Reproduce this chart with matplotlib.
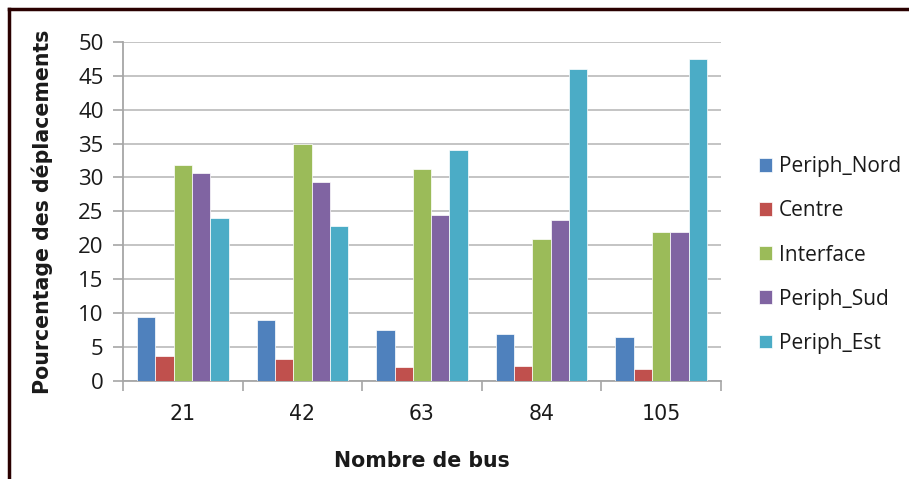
import numpy as np
import matplotlib.pyplot as plt
from matplotlib.lines import Line2D

plt.rcParams['font.family'] = ['DejaVu Sans']

# data
bus_counts = ['21', '42', '63', '84', '105']
periph_nord = [9.35, 9.0, 7.5, 6.95, 6.45]
centre = [3.7, 3.2, 2.0, 2.15, 1.8]
interface = [31.8, 35.0, 31.3, 20.9, 21.95]
periph_sud = [30.6, 29.4, 24.5, 23.7, 21.95]
periph_est = [24.0, 22.9, 34.05, 45.95, 47.45]

series_names = ['Periph_Nord', 'Centre', 'Interface', 'Periph_Sud', 'Periph_Est']
series_vals = [periph_nord, centre, interface, periph_sud, periph_est]
colors = ['#4F81BD', '#C0504D', '#9BBB59', '#8064A2', '#4BACC6']

fs = 14.8
txt = '#1a1a1a'
W, H = 909, 479
fig = plt.figure(figsize=(W / 100, H / 100), dpi=100)
ax = fig.add_axes([123 / W, 1 - 380.7 / H, (721 - 123) / W, (380.7 - 42) / H])

x = np.arange(len(bus_counts))
bw = 0.153
for i, (name, vals, c) in enumerate(zip(series_names, series_vals, colors)):
    ax.bar(x + (i - 2) * bw, vals, width=bw, color=c, edgecolor='white',
           linewidth=0.5, label=name, zorder=3)

ax.set_xlim(-0.5, len(bus_counts) - 0.5)
ax.set_ylim(0, 50)
ax.set_yticks(np.arange(0, 51, 5))
ax.set_xticks(x)
ax.set_xticklabels(bus_counts)
ax.set_xticks(np.arange(-0.5, len(bus_counts)), minor=True)
ax.tick_params(axis='x', which='major', length=0, pad=17, labelsize=fs, labelcolor=txt)
ax.tick_params(axis='x', which='minor', length=7, width=1.2, color='#A6A6A6')
ax.tick_params(axis='y', length=7, width=1.2, color='#A6A6A6', labelsize=16,
               labelcolor=txt, pad=7)
for lab in ax.get_yticklabels():
    lab.set_family(['Open Sans', 'DejaVu Sans'])

ax.grid(axis='y', color='#BFBFBF', linewidth=1.3, zorder=0)
for s in ['top', 'right']:
    ax.spines[s].set_visible(False)
for s in ['left', 'bottom']:
    ax.spines[s].set_color('#A6A6A6')
    ax.spines[s].set_linewidth(1.3)

ax.set_xlabel('Nombre de bus', fontsize=fs, fontweight='bold', labelpad=19, color=txt)
ax.set_ylabel('Pourcentage des déplacements', fontsize=fs, fontweight='bold',
              labelpad=18, color=txt)

leg = ax.legend(loc='center left', bbox_to_anchor=(1.032, 0.371), frameon=False,
                prop={'family': ['Open Sans', 'DejaVu Sans'], 'size': 15},
                handlelength=0.65, handleheight=0.65, handletextpad=0.3,
                labelspacing=1.11, labelcolor=txt)

# dark frame around the chart
fig.add_artist(Line2D([9 / W, 1], [1 - 9 / H, 1 - 9 / H], color='#2a0000', lw=2.5))
fig.add_artist(Line2D([9 / W, 9 / W], [0, 1 - 9 / H], color='#2a0000', lw=2.5))

fig.savefig('out.png', dpi=100)
